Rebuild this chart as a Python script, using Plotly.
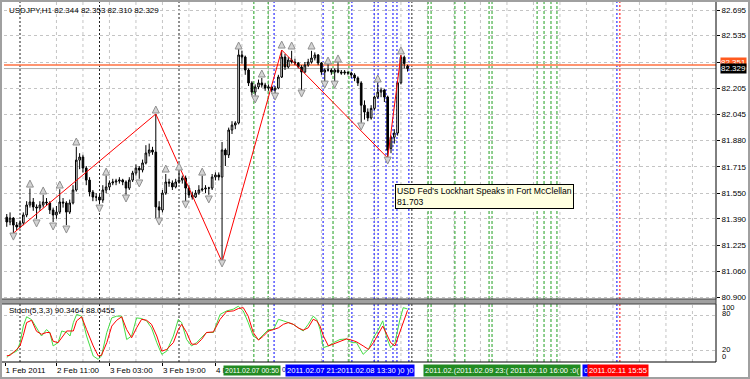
import plotly.graph_objects as go

# ---------------- data ----------------
title_text = "USDJPY,H1 82.344 82.353 82.310 82.329"
stoch_text = "Stoch(5,3,3) 90.3464 88.0455"

bar_open = [81.400, 81.370, 81.395, 81.351, 81.339, 81.364, 81.414, 81.476, 81.495, 81.464,
            81.458, 81.476, 81.495, 81.489, 81.445, 81.414, 81.432, 81.495, 81.489, 81.432,
            81.489, 81.570, 81.757, 81.776, 81.707, 81.632, 81.557, 81.526, 81.526, 81.507,
            81.570, 81.589, 81.614, 81.620, 81.626, 81.632, 81.620, 81.582, 81.632, 81.676,
            81.707, 81.695, 81.739, 81.801, 81.820, 81.807, 81.464, 81.445, 81.551, 81.620,
            81.614, 81.589, 81.620, 81.632, 81.645, 81.582, 81.539, 81.526, 81.551, 81.570,
            81.576, 81.582, 81.582, 81.651, 81.664, 81.651, 81.820, 81.789, 81.945, 81.976,
            81.989, 82.414, 82.401, 82.320, 82.239, 82.182, 82.214, 82.239, 82.226, 82.207,
            82.214, 82.195, 82.207, 82.276, 82.401, 82.339, 82.382, 82.370, 82.364, 82.339,
            82.307, 82.351, 82.370, 82.395, 82.414, 82.364, 82.307, 82.320, 82.320, 82.307,
            82.320, 82.307, 82.301, 82.307, 82.301, 82.289, 82.270, 82.239, 82.100, 82.057,
            82.020, 82.080, 82.151, 82.182, 82.195, 82.151, 81.830, 81.900, 81.926, 82.240,
            82.400, 82.344]
bar_high = [81.42, 81.43, 81.40, 81.37, 81.38, 81.43, 81.50, 81.58, 81.52, 81.48,
            81.50, 81.54, 81.52, 81.50, 81.46, 81.47, 81.575, 81.52, 81.50, 81.51,
            81.60, 81.84, 81.80, 81.79, 81.72, 81.65, 81.57, 81.55, 81.54, 81.60,
            81.66, 81.63, 81.64, 81.64, 81.65, 81.64, 81.63, 81.65, 81.69, 81.73,
            81.72, 81.76, 81.85, 81.86, 81.84, 82.045, 81.50, 81.57, 81.67, 81.64,
            81.63, 81.64, 81.69, 81.66, 81.66, 81.60, 81.56, 81.57, 81.60, 81.66,
            81.60, 81.59, 81.67, 81.68, 81.68, 81.87, 81.83, 81.96, 82.00, 82.00,
            82.45, 82.44, 82.41, 82.33, 82.25, 82.23, 82.26, 82.27, 82.24, 82.23,
            82.22, 82.22, 82.29, 82.445, 82.42, 82.40, 82.44, 82.39, 82.37, 82.35,
            82.37, 82.39, 82.44, 82.43, 82.42, 82.37, 82.33, 82.36, 82.33, 82.33,
            82.37, 82.32, 82.32, 82.31, 82.31, 82.30, 82.28, 82.25, 82.13, 82.08,
            82.10, 82.16, 82.24, 82.21, 82.20, 82.16, 81.91, 81.95, 82.25, 82.414,
            82.41, 82.353]
bar_low = [81.34, 81.35, 81.30, 81.32, 81.33, 81.35, 81.40, 81.46, 81.44, 81.39,
           81.44, 81.46, 81.47, 81.42, 81.37, 81.39, 81.42, 81.46, 81.35, 81.42,
           81.48, 81.56, 81.70, 81.68, 81.60, 81.53, 81.50, 81.50, 81.48, 81.49,
           81.55, 81.57, 81.60, 81.60, 81.61, 81.60, 81.54, 81.57, 81.62, 81.66,
           81.64, 81.68, 81.73, 81.78, 81.79, 81.395, 81.39, 81.43, 81.54, 81.59,
           81.57, 81.58, 81.61, 81.61, 81.50, 81.52, 81.51, 81.52, 81.54, 81.56,
           81.55, 81.54, 81.57, 81.63, 81.63, 81.12, 81.72, 81.77, 81.92, 81.95,
           81.98, 82.36, 82.29, 82.22, 82.16, 82.16, 82.20, 82.21, 82.19, 82.19,
           82.18, 82.17, 82.20, 82.27, 82.32, 82.33, 82.36, 82.35, 82.33, 82.19,
           82.30, 82.34, 82.36, 82.38, 82.35, 82.29, 82.25, 82.31, 82.29, 82.25,
           82.30, 82.29, 82.29, 82.29, 82.27, 82.25, 82.22, 81.99, 82.01, 82.00,
           82.01, 82.07, 82.14, 82.15, 82.12, 81.77, 81.80, 81.86, 81.91, 82.23,
           82.33, 82.310]
bar_close = [81.370, 81.395, 81.351, 81.339, 81.364, 81.414, 81.476, 81.495, 81.464, 81.458,
             81.476, 81.495, 81.489, 81.445, 81.414, 81.432, 81.495, 81.489, 81.432, 81.489,
             81.570, 81.757, 81.776, 81.707, 81.632, 81.557, 81.526, 81.526, 81.507, 81.570,
             81.589, 81.614, 81.620, 81.626, 81.632, 81.620, 81.582, 81.632, 81.676, 81.707,
             81.695, 81.739, 81.801, 81.820, 81.807, 81.464, 81.445, 81.551, 81.620, 81.614,
             81.589, 81.620, 81.632, 81.645, 81.582, 81.539, 81.526, 81.551, 81.570, 81.576,
             81.582, 81.582, 81.651, 81.664, 81.651, 81.820, 81.789, 81.945, 81.976, 81.989,
             82.414, 82.401, 82.320, 82.239, 82.182, 82.214, 82.239, 82.226, 82.207, 82.214,
             82.195, 82.207, 82.276, 82.401, 82.339, 82.382, 82.370, 82.364, 82.339, 82.307,
             82.351, 82.370, 82.395, 82.414, 82.364, 82.307, 82.320, 82.320, 82.307, 82.320,
             82.307, 82.301, 82.307, 82.301, 82.289, 82.270, 82.239, 82.100, 82.057, 82.020,
             82.080, 82.151, 82.182, 82.195, 82.151, 81.820, 81.900, 81.926, 82.240, 82.400,
             82.360, 82.329]
bar_t = list(range(len(bar_close)))

zigzag_t = [2, 45, 65, 83, 115, 119]
zigzag_p = [81.300, 82.045, 81.120, 82.445, 81.770, 82.414]

frac_up_t = [7, 11, 16, 21, 30, 45, 48, 52, 59, 70, 77, 83, 86, 92, 97, 100, 112, 119]
frac_up_p = [81.632, 81.589, 81.626, 81.895, 81.707, 82.095, 81.726, 81.739, 81.707,
             82.495, 82.320, 82.501, 82.495, 82.495, 82.401, 82.414, 82.289, 82.464]
frac_dn_t = [2, 9, 14, 18, 28, 36, 40, 46, 54, 61, 65, 75, 81, 89, 96, 99, 107, 115]
frac_dn_p = [81.257, 81.339, 81.320, 81.301, 81.432, 81.495, 81.589, 81.351, 81.457,
             81.489, 81.089, 82.114, 82.132, 82.151, 82.207, 82.207, 81.945, 81.732]

stoch_t = [0, 1, 3, 4, 5, 6, 7.5, 9, 10.5, 12, 13, 14, 15.5, 16.6, 18.1, 19.1, 20.1, 21.1,
           22.6, 24.1, 26.1, 27.6, 28.6, 30.2, 31.7, 33.2, 34.7, 36.2, 37.7, 39.2, 40.7,
           42.2, 43.7, 45.3, 46.8, 48.3, 50.3, 51.8, 52.8, 54.3, 55.8, 57.3, 58.8, 60.3,
           62.4, 64.4, 66.4, 68.4, 69.9, 71.4, 72.9, 74.4, 76, 77.5, 79, 80.5, 82, 83.5,
           85, 86.5, 88, 89.5, 91, 92.5, 93.6, 94.6, 95.6, 97.1, 98.6, 100.6, 102.6, 104.1,
           105.6, 107.6, 109.2, 110.7, 112.2, 113.5, 114.7, 115.9, 117.2, 118.7, 119.7, 121]
stoch_main = [7, 12.6, 18, 32, 61, 77, 72, 58, 44, 55, 50, 27, 32.6, 52.6, 50, 44, 67, 81,
              78, 44, 9.7, 4, 10, 50, 75, 78, 78, 38, 44, 75, 74, 70, 58, 32.6, 12.6, 18,
              44, 72.6, 67, 38, 27, 32.6, 41, 50, 50, 81, 87, 90, 95, 87, 67, 44, 38, 47,
              55, 55, 72.6, 70, 67, 64, 58, 52.6, 64, 78, 72.6, 55, 24, 27, 32.6, 38, 39,
              32.6, 32.6, 12.6, 21, 41, 55, 70, 41, 24, 32.6, 72.6, 92.6, 90.3]
stoch_signal = [10, 11, 21, 27, 45, 67, 71, 52, 47, 50, 50, 35, 32.6, 41, 52.6, 52.6, 52.6,
                70, 77, 55, 27, 10, 11, 32.6, 61, 71, 77, 55, 41, 58, 72.6, 71, 64, 44, 18,
                21, 32.6, 55, 64, 50, 30, 30, 38, 50, 51, 72.6, 86, 87, 91, 92.6, 78, 50, 37,
                44, 52.6, 55, 58, 64, 67, 64, 58, 54, 58, 72.6, 70, 61, 44, 27, 30, 35, 39,
                37, 34, 27, 21, 32.6, 47, 61, 47, 32.6, 27, 50, 67, 88]

price_ticks = [82.695, 82.535, 82.370, 82.205, 82.045, 81.880, 81.715, 81.550,
               81.390, 81.225, 81.060, 80.900]
price_tick_text = ["82.695", "82.535", "82.370", "82.205", "82.045", "81.880", "81.715",
                   "81.550", "81.390", "81.225", "81.060", "80.900"]
stoch_levels = [80, 20]
stoch_labels = ["100", "80", "20", "0"]

time_tick_t = [-0.5, 15, 31, 47, 63]
time_tick_text = ["1 Feb 2011", "2 Feb 11:00", "3 Feb 03:00", "3 Feb 19:00", "4 F"]
grid_t = list(range(15, 215, 8))

day_sep_t = [4, 28, 52, 122.3]
green_lines_t = [74.6, 78.9, 98.5, 103.3, 127.2, 128.1, 135.3, 138.3, 145.6, 146.5,
                 160.1, 162.2, 164.3, 166.1]
blue_lines_t = [80.7, 95.5, 104.2, 110.9, 112.1, 114.5, 116.6, 117.8, 121.4, 184.2]
red_lines_t = [185.1]

hline_price = 82.351
bid_price = 82.329
tooltip_lines = ["USD Fed's Lockhart Speaks in Fort McClellan", "81.703"]

event_labels = ["2011.02.07 00:50", "0(", "2011.02.07 21:2011.02.08 13:30 )0 )0",
                "2011.02.(2011.02.09 23:( 2011.02.10 16:00 :0(", "0", "2011.02.11 15:55"]

# ---------------- layout helpers ----------------
W, H = 750, 379
L, R, T, B = 4, 716, 2, 362
X0PX, STEP = 6.75, 3.3125
FONT = "Liberation Sans"


def pxx(px):
    return (px - L) / (R - L)


def pxy(py):
    return (B - py) / (B - T)


main_dom = [pxy(299), 1.0]
stoch_dom = [0.0, pxy(304)]
x_range = [(L - X0PX) / STEP, (R - X0PX) / STEP]
p_range = [82.695 - (299 - 10) / 160.0, 82.695 + (10 - T) / 160.0]
s_range = [20 - (B - 350) * 60 / 35.0, 80 + (315 - 304) * 60 / 35.0]

GREEN = "#1f9f1f"
BLUE = "#0000ff"
GRIDC = "#c4c4c4"

fig = go.Figure()

fig.add_trace(go.Candlestick(
    x=bar_t, open=bar_open, high=bar_high, low=bar_low, close=bar_close,
    increasing=dict(line=dict(color="black", width=1), fillcolor="white"),
    decreasing=dict(line=dict(color="black", width=1), fillcolor="black"),
    whiskerwidth=0, xaxis="x", yaxis="y", hoverinfo="skip"))

fig.add_trace(go.Scatter(x=zigzag_t, y=zigzag_p, mode="lines",
                         line=dict(color="#ff0000", width=1), xaxis="x", yaxis="y"))

fig.add_trace(go.Scatter(x=frac_up_t, y=frac_up_p, mode="markers",
                         marker=dict(symbol="arrow-up", size=7, color="#d4d4d4",
                                     line=dict(color="#909090", width=1)),
                         xaxis="x", yaxis="y"))
fig.add_trace(go.Scatter(x=frac_dn_t, y=frac_dn_p, mode="markers",
                         marker=dict(symbol="arrow-down", size=7, color="#d4d4d4",
                                     line=dict(color="#909090", width=1)),
                         xaxis="x", yaxis="y"))

fig.add_trace(go.Scatter(x=stoch_t, y=stoch_main, mode="lines",
                         line=dict(color="#44dd44", width=1), xaxis="x2", yaxis="y2"))
fig.add_trace(go.Scatter(x=stoch_t, y=stoch_signal, mode="lines",
                         line=dict(color="#ff0000", width=1), xaxis="x2", yaxis="y2"))

shapes = []
# vertical grid and object lines in both panels
for xr, yr in (("x", "y domain"), ("x2", "y2 domain")):
    for t in grid_t:
        shapes.append(dict(type="line", xref=xr, yref=yr, x0=t, x1=t, y0=0, y1=1,
                           line=dict(color=GRIDC, width=1, dash="3px,3px"), layer="below"))
    for t in day_sep_t:
        shapes.append(dict(type="line", xref=xr, yref=yr, x0=t, x1=t, y0=0, y1=1,
                           line=dict(color="#202020", width=1, dash="2px,2px"), layer="below"))
    for t in green_lines_t:
        shapes.append(dict(type="line", xref=xr, yref=yr, x0=t, x1=t, y0=0, y1=1,
                           line=dict(color=GREEN, width=1, dash="3px,2px"), layer="below"))
    for t in blue_lines_t:
        shapes.append(dict(type="line", xref=xr, yref=yr, x0=t, x1=t, y0=0, y1=1,
                           line=dict(color=BLUE, width=1, dash="2px,2px"), layer="below"))
    for t in red_lines_t:
        shapes.append(dict(type="line", xref=xr, yref=yr, x0=t, x1=t, y0=0, y1=1,
                           line=dict(color="#ff0000", width=1, dash="2px,2px"), layer="below"))

# bid line and orange horizontal line
shapes.append(dict(type="line", xref="paper", yref="y", x0=0, x1=1, y0=bid_price, y1=bid_price,
                   line=dict(color="#b0b0b0", width=1), layer="below"))
shapes.append(dict(type="line", xref="paper", yref="y", x0=0, x1=1, y0=hline_price, y1=hline_price,
                   line=dict(color="#ff7040", width=1.5), layer="below"))

# frames
shapes.append(dict(type="line", xref="paper", yref="paper", x0=1, x1=1, y0=main_dom[0], y1=1,
                   line=dict(color="black", width=1)))
shapes.append(dict(type="line", xref="paper", yref="paper", x0=1, x1=1, y0=0, y1=stoch_dom[1],
                   line=dict(color="black", width=1)))
shapes.append(dict(type="line", xref="paper", yref="paper", x0=pxx(0), x1=1, y0=0, y1=0,
                   line=dict(color="black", width=1)))
shapes.append(dict(type="rect", xref="paper", yref="paper", x0=pxx(0), x1=1,
                   y0=stoch_dom[1], y1=main_dom[0], fillcolor="#a0a0a0",
                   line=dict(color="#404040", width=1)))
# window border
shapes.append(dict(type="rect", xref="paper", yref="paper", x0=pxx(1), x1=pxx(749),
                   y0=pxy(378), y1=pxy(1), line=dict(color="#a0a0a0", width=2)))

annotations = []
annotations.append(dict(text=title_text, xref="paper", yref="paper", x=pxx(7), y=pxy(10),
                        xanchor="left", yanchor="middle", showarrow=False,
                        font=dict(size=8, color="black", family=FONT)))
annotations.append(dict(text=stoch_text, xref="paper", yref="paper", x=pxx(7), y=pxy(310),
                        xanchor="left", yanchor="middle", showarrow=False,
                        font=dict(size=8, color="black", family=FONT)))
stoch_label_py = [307.5, 313.5, 349.5, 356]
for lab, py in zip(stoch_labels, stoch_label_py):
    annotations.append(dict(text=lab, xref="paper", yref="paper", x=pxx(720), y=pxy(py),
                            xanchor="left", yanchor="middle", showarrow=False,
                            font=dict(size=7.5, color="black", family=FONT)))
# price boxes
annotations.append(dict(text=f"{hline_price:.3f}", xref="paper", yref="y", x=pxx(719.5), y=hline_price,
                        yshift=3, xanchor="left", yanchor="middle", showarrow=False, bgcolor="#ff5a1e",
                        borderpad=0, font=dict(size=8, color="white", family=FONT)))
annotations.append(dict(text=f"{bid_price:.3f}", xref="paper", yref="y", x=pxx(719.5), y=bid_price,
                        xanchor="left", yanchor="middle", showarrow=False, bgcolor="black",
                        borderpad=0, font=dict(size=8, color="white", family=FONT)))
# tooltip
annotations.append(dict(text="<br>".join(tooltip_lines), xref="paper", yref="paper", x=pxx(395),
                        y=pxy(184), xanchor="left", yanchor="top", align="left", showarrow=False,
                        bgcolor="#ffffe1", bordercolor="black", borderwidth=1, borderpad=1,
                        font=dict(size=8.6, color="black", family=FONT)))
# event labels on the time axis
ev_left_px = [223, 279.5, 285, 423, 582, 587]
ev_bg = ["#228b22", None, BLUE, "#228b22", BLUE, "#ff0000"]
ev_fc = ["white", "#000080", "white", "white", "white", "white"]
ev_size = [7.0, 7.0, 7.6, 7.5, 7.3, 7.6]
for txt, lp, bg, fc, fs in zip(event_labels, ev_left_px, ev_bg, ev_fc, ev_size):
    a = dict(text=txt, xref="paper", yref="paper", x=pxx(lp), y=pxy(370.5), xanchor="left",
             yanchor="middle", showarrow=False, borderpad=1,
             font=dict(size=fs, color=fc, family=FONT))
    if bg:
        a["bgcolor"] = bg
    annotations.append(a)

fig.update_layout(
    width=W, height=H, margin=dict(l=L, r=W - R, t=T, b=H - B),
    paper_bgcolor="white", plot_bgcolor="white", showlegend=False, hovermode=False,
    font=dict(family=FONT, size=8, color="black"),
    xaxis=dict(domain=[0, 1], anchor="y", range=x_range, showticklabels=False, showgrid=False,
               zeroline=False, showline=False, ticks="", rangeslider=dict(visible=False)),
    xaxis2=dict(domain=[0, 1], anchor="y2", matches="x", range=x_range, tickmode="array",
                tickvals=time_tick_t, ticktext=time_tick_text, ticks="outside", ticklen=3,
                tickcolor="black", ticklabelposition="outside right", showgrid=False,
                zeroline=False, showline=False, tickfont=dict(size=8, family=FONT, color="black")),
    yaxis=dict(domain=main_dom, anchor="x", range=p_range, side="right", tickmode="array",
               tickvals=price_ticks, ticktext=price_tick_text, ticks="outside", ticklen=3,
               tickcolor="black", showgrid=True, gridcolor=GRIDC, griddash="3px,3px",
               zeroline=False, showline=False, tickfont=dict(size=8, family=FONT, color="black")),
    yaxis2=dict(domain=stoch_dom, anchor="x2", range=s_range, side="right", tickmode="array",
                tickvals=stoch_levels, showticklabels=False, ticks="", showgrid=True,
                gridcolor=GRIDC, griddash="3px,3px", zeroline=False, showline=False),
    shapes=shapes, annotations=annotations,
)

fig.write_html("out.html", config={"displayModeBar": False})
